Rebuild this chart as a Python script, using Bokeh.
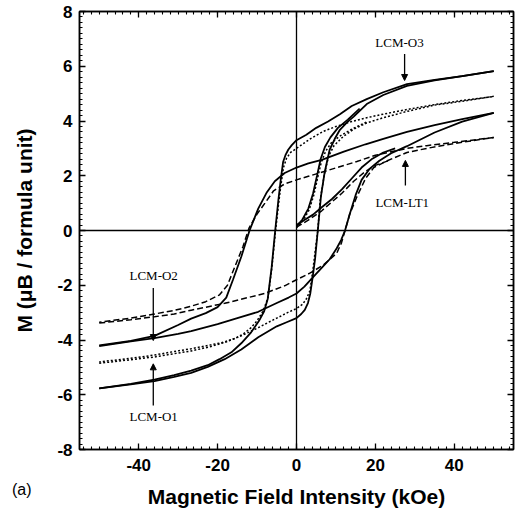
import math
from bokeh.plotting import figure
from bokeh.layouts import column
from bokeh.models import (Range1d, LinearAxis, Span, Label, Arrow, NormalHead, FixedTicker,
                          SingleIntervalTicker, CustomJSTickFormatter)
from bokeh.embed import file_html
from bokeh.resources import INLINE

# ---------------- data ----------------
x_ticks = [-40, -20, 0, 20, 40]
x_tick_labels = ["-40", "-20", "0", "20", "40"]
y_ticks = [-8, -6, -4, -2, 0, 2, 4, 6, 8]
y_tick_labels = ["-8", "-6", "-4", "-2", "0", "2", "4", "6", "8"]

# LCM-O3 : solid, narrow loop
o3_desc_h = [50, 42, 35, 28, 22, 17.8, 14, 11, 8, 5, 2.5, 0, -1.2, -2.1, -2.8, -3.4, -4.0, -4.6, -5.4,
             -6.3, -7.3, -8.2, -9.5, -11.5, -14, -16.5, -19.5, -22.5, -26.7, -31, -36, -42, -50]
o3_desc_m = [5.82, 5.64, 5.5, 5.35, 5.05, 4.8, 4.55, 4.25, 3.98, 3.75, 3.5, 3.3, 3.12, 2.95, 2.75, 2.5,
             1.85, 1.1, 0.0, -1.35, -2.5, -2.95, -3.3, -3.72, -4.12, -4.45, -4.7, -4.92, -5.12, -5.28,
             -5.45, -5.6, -5.77]
o3_asc_h = [-50, -42, -36, -31, -26.7, -22.5, -18.2, -14, -9.7, -5, -2.5, 0, 1.2, 2.1, 2.9, 3.5, 4.1,
            4.7, 5.4, 6.2, 7.1, 8.4, 9.7, 11, 12.8, 14.5, 17.8, 22, 28, 35, 42, 50]
o3_asc_m = [-5.77, -5.62, -5.5, -5.35, -5.2, -4.98, -4.7, -4.35, -3.9, -3.5, -3.35, -3.2, -3.05, -2.9,
            -2.65, -2.3, -1.7, -1.05, 0.0, 1.25, 2.1, 2.95, 3.35, 3.68, 3.95, 4.16, 4.62, 4.95, 5.28,
            5.48, 5.64, 5.82]
o3_vir_h = [0, 1.5, 3, 4.2, 5.2, 6.1, 7.2, 8.6, 10.5, 13, 16]
o3_vir_m = [0.15, 0.4, 0.8, 1.35, 2.0, 2.6, 3.05, 3.4, 3.75, 4.05, 4.45]

# LCM-O1 : dotted, narrow loop
o1_desc_h = [50, 42, 35, 28, 22, 17.8, 14, 10, 6.8, 3.5, 0, -1.5, -2.5, -3.3, -4.0, -4.6, -5.3, -6.2,
             -7.2, -8.5, -10, -11.5, -13.5, -15.7, -19, -22.5, -26.7, -31, -36, -42, -50]
o1_desc_m = [4.9, 4.75, 4.6, 4.42, 4.25, 4.12, 3.98, 3.8, 3.62, 3.35, 3.0, 2.85, 2.65, 2.3, 1.6, 0.9,
             0.0, -1.3, -2.45, -2.95, -3.3, -3.55, -3.78, -3.95, -4.1, -4.2, -4.32, -4.42, -4.55,
             -4.67, -4.8]
o1_asc_h = [-50, -42, -36, -31, -26.7, -22, -18, -14, -9.7, -5, -2, 0, 1.5, 2.5, 3.4, 4.1, 4.7, 5.4,
            6.0, 7.0, 8.1, 9.5, 11.9, 14.5, 17.8, 22, 28, 35, 42, 50]
o1_asc_m = [-4.85, -4.72, -4.62, -4.5, -4.4, -4.25, -4.08, -3.85, -3.55, -3.2, -2.98, -2.85, -2.7,
            -2.5, -2.2, -1.5, -0.8, 0.0, 1.1, 2.0, 2.7, 3.1, 3.44, 3.7, 3.93, 4.12, 4.35, 4.58,
            4.72, 4.9]
o1_vir_h = [0, 1.6, 3.2, 4.4, 5.4, 6.3, 7.4, 8.8, 11, 14, 18]
o1_vir_m = [0.1, 0.35, 0.75, 1.3, 1.95, 2.5, 2.9, 3.2, 3.45, 3.7, 3.98]

# LCM-O2 : solid, wide loop
o2_desc_h = [50, 42, 35, 28, 22, 17.5, 12, 6.4, 3, 0, -3, -5.5, -7.5, -9.7, -11.9, -14, -16.1,
             -17.8, -20, -23, -26.7, -30, -36, -42, -50]
o2_desc_m = [4.3, 4.07, 3.85, 3.6, 3.35, 3.15, 2.88, 2.58, 2.45, 2.3, 2.1, 1.8, 1.4, 0.8, 0.0,
             -0.96, -1.8, -2.45, -2.8, -3.02, -3.22, -3.45, -3.85, -4.03, -4.2]
o2_asc_h = [-50, -42, -36, -30, -26.7, -20, -15, -9.7, -5, -2, 0, 2, 4.2, 6.5, 8.4, 10.2, 11.3,
            12.3, 13.5, 15, 16.5, 18.5, 21, 24, 28, 35, 42, 50]
o2_asc_m = [-4.22, -4.05, -3.93, -3.78, -3.68, -3.42, -3.2, -2.97, -2.65, -2.45, -2.3, -2.05, -1.7,
            -1.35, -1.05, -0.65, -0.35, 0.0, 0.6, 1.3, 1.85, 2.25, 2.55, 2.82, 3.08, 3.58, 3.98, 4.3]
o2_vir_h = [0, 2, 4.2, 6.4, 9, 11.5, 14, 16.5, 19, 22, 25]
o2_vir_m = [0.2, 0.38, 0.58, 0.85, 1.15, 1.5, 1.9, 2.3, 2.6, 2.85, 3.0]

# LCM-LT1 : dashed, wide loop
lt1_desc_h = [50, 40, 33, 28, 20, 15.3, 8, 3, 0, -3, -5.8, -8, -10, -12, -13.6, -15.7, -17.5,
              -19.5, -23, -27, -31, -36, -42, -50]
lt1_desc_m = [3.4, 3.22, 3.1, 3.0, 2.75, 2.52, 2.2, 1.98, 1.85, 1.7, 1.45, 1.0, 0.6, 0.1, -0.6,
              -1.35, -2.0, -2.35, -2.6, -2.78, -2.92, -3.05, -3.2, -3.35]
lt1_asc_h = [-50, -42, -36, -31, -26.7, -18.2, -8.1, -3, 0, 3.5, 6.8, 10.2, 11.4, 12.3, 13.5,
             15.3, 17.5, 19.6, 23, 28, 33, 40, 50]
lt1_asc_m = [-3.38, -3.26, -3.15, -3.05, -2.91, -2.66, -2.3, -2.02, -1.8, -1.55, -1.26, -0.83,
             -0.45, 0.0, 0.6, 1.23, 1.9, 2.3, 2.55, 2.85, 3.0, 3.18, 3.4]
lt1_vir_h = [0, 3, 6.4, 9, 11.5, 14.5, 17.4, 20, 23.3]
lt1_vir_m = [0.12, 0.38, 0.72, 1.05, 1.36, 1.8, 2.15, 2.38, 2.55]

sample_names = ["LCM-O3", "LCM-LT1", "LCM-O2", "LCM-O1"]

# ---------------- main figure ----------------
p = figure(width=515, height=480, output_backend="svg", toolbar_location=None,
           x_range=Range1d(-55, 55), y_range=Range1d(-8, 8),
           min_border_left=79, min_border_right=2, min_border_top=11, min_border_bottom=31)
p.background_fill_color = "white"
p.border_fill_color = "white"
p.outline_line_color = "black"
p.outline_line_width = 1.5
p.xgrid.visible = False
p.ygrid.visible = False

TICK_FONT = "Liberation Sans"


def style_axis(ax):
    ax.axis_line_color = "black"
    ax.axis_line_width = 1.5
    ax.major_tick_in = 6
    ax.major_tick_out = 0
    ax.minor_tick_in = 3
    ax.minor_tick_out = 0
    ax.major_tick_line_width = 1.3
    ax.minor_tick_line_width = 1.1
    ax.major_tick_line_color = "black"
    ax.minor_tick_line_color = "black"
    ax.major_label_text_font = TICK_FONT
    ax.major_label_text_font_style = "bold"
    ax.major_label_text_font_size = "17px"
    ax.major_label_text_color = "black"


p.xaxis.ticker = SingleIntervalTicker(interval=20, num_minor_ticks=10)
p.yaxis.ticker = SingleIntervalTicker(interval=2, num_minor_ticks=10)
style_axis(p.xaxis[0])
style_axis(p.yaxis[0])
p.xaxis.major_label_overrides = dict(zip(x_ticks, x_tick_labels))
p.yaxis.major_label_overrides = dict(zip(y_ticks, y_tick_labels))
p.xaxis.major_label_standoff = 9
p.yaxis.major_label_standoff = 7
p.xaxis.axis_label = None
p.yaxis.axis_label = "M (μB / formula unit)"
p.yaxis.axis_label_text_font = TICK_FONT
p.yaxis.axis_label_text_font_style = "bold"
p.yaxis.axis_label_text_font_size = "21px"
p.yaxis.axis_label_text_color = "black"
p.yaxis.axis_label_standoff = 18

empty_fmt = CustomJSTickFormatter(code="return ''")
top_ax = LinearAxis(ticker=SingleIntervalTicker(interval=20, num_minor_ticks=10), formatter=empty_fmt)
right_ax = LinearAxis(ticker=SingleIntervalTicker(interval=2, num_minor_ticks=10), formatter=empty_fmt)
for ax in (top_ax, right_ax):
    style_axis(ax)
    ax.major_label_standoff = 0
p.add_layout(top_ax, "above")
p.add_layout(right_ax, "right")

# cross lines
p.add_layout(Span(location=0, dimension="height", line_color="black", line_width=1.3))
p.add_layout(Span(location=0, dimension="width", line_color="black", line_width=1.3))

# ---------------- curves ----------------
solid = dict(line_color="black", line_width=1.8)
dotted = dict(line_color="black", line_width=1.5, line_dash="2 2")
dashed = dict(line_color="black", line_width=1.5, line_dash="6 3")

for h, m in [(o2_desc_h, o2_desc_m), (o2_asc_h, o2_asc_m), (o2_vir_h, o2_vir_m)]:
    p.line(h, m, **solid)
for h, m in [(lt1_desc_h, lt1_desc_m), (lt1_asc_h, lt1_asc_m), (lt1_vir_h, lt1_vir_m)]:
    p.line(h, m, **dashed)
for h, m in [(o1_desc_h, o1_desc_m), (o1_asc_h, o1_asc_m), (o1_vir_h, o1_vir_m)]:
    p.line(h, m, **dotted)
for h, m in [(o3_desc_h, o3_desc_m), (o3_asc_h, o3_asc_m), (o3_vir_h, o3_vir_m)]:
    p.line(h, m, **solid)

# ---------------- annotations ----------------
ann_font = "Liberation Serif"
label_pos = [(26.1, 6.88), (26.8, 1.03), (-36.2, -1.64), (-36.2, -6.78)]
arrow_pos = [(27.4, 6.45, 27.4, 5.48), (27.6, 1.64, 27.6, 2.56),
             (-36.3, -2.1, -36.3, -4.02), (-36.3, -6.39, -36.3, -4.87)]
for name, (lx, ly), (x0, y0, x1, y1) in zip(sample_names, label_pos, arrow_pos):
    p.add_layout(Label(x=lx, y=ly, text=name, text_align="center", text_baseline="middle",
                       text_font=ann_font, text_font_size="13px", text_color="black"))
    p.add_layout(Arrow(x_start=x0, y_start=y0, x_end=x1, y_end=y1, line_width=1.3,
                       line_color="black",
                       end=NormalHead(size=6, fill_color="black", line_color="black", line_width=1)))

# ---------------- bottom strip: x-axis title and panel tag on one row ----------------
# (its frame is aligned with the main frame by the column layout)
q = figure(width=515, height=32, output_backend="svg", toolbar_location=None,
           x_range=Range1d(-55, 55), y_range=Range1d(0, 32),
           x_axis_type=None, y_axis_type=None,
           min_border_left=0, min_border_right=0, min_border_top=0, min_border_bottom=0)
q.outline_line_color = None
q.background_fill_color = "white"
q.border_fill_color = "white"
q.xgrid.visible = False
q.ygrid.visible = False

# panel tag "(a)" drawn as the single label of an invisible left axis of the strip
tag_ax = LinearAxis(ticker=FixedTicker(ticks=[23], minor_ticks=[]),
                    major_label_overrides={23: "(a)"})
tag_ax.axis_line_color = None
tag_ax.major_tick_line_color = None
tag_ax.minor_tick_line_color = None
tag_ax.major_label_standoff = 42
tag_ax.major_label_text_font = TICK_FONT
tag_ax.major_label_text_font_size = "16px"
tag_ax.major_label_text_font_style = "normal"
tag_ax.major_label_text_color = "black"
q.add_layout(tag_ax, "left")

q.add_layout(Label(x=0, y=16, text="Magnetic Field Intensity (kOe)", text_align="center",
                   text_baseline="middle", text_font=TICK_FONT, text_font_style="bold",
                   text_font_size="21px", text_color="black"))

layout = column(p, q, spacing=0)
open("out.html", "w").write(file_html(layout, INLINE))
